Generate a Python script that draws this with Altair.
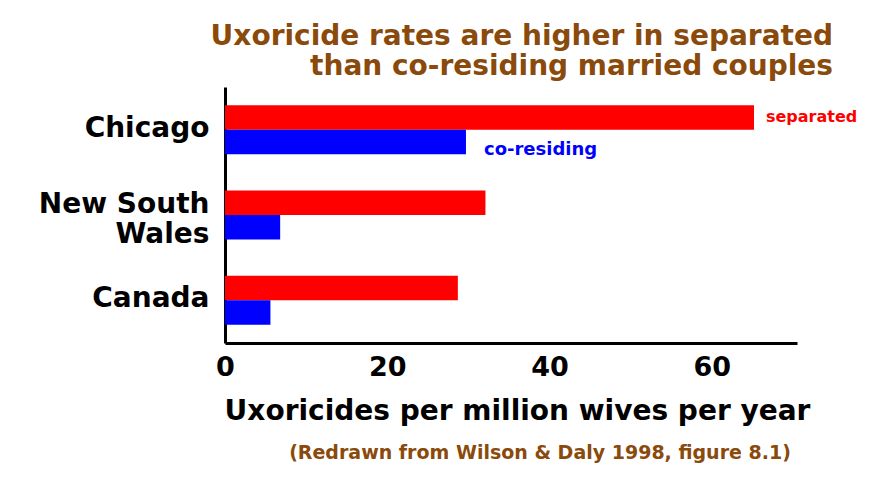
import altair as alt
import pandas as pd

countries = ["Chicago", "New South Wales", "Canada"]
separated = [65.2, 32.1, 28.7]
coresiding = [29.7, 6.8, 5.6]
groups = ["separated", "co-residing"]
colors = ["#ff0000", "#0000ff"]
title_lines = ["Uxoricide rates are higher in separated", "than co-residing married couples"]
x_title = "Uxoricides per million wives per year"
source_note = "(Redrawn from Wilson & Daly 1998, figure 8.1)"
x_ticks = [0, 20, 40, 60]

BROWN = "#8a4a0c"
FONT = "DejaVu Sans"
W, H = 572, 256

rows = []
for c, s, r in zip(countries, separated, coresiding):
    rows.append({"country": c, "group": "separated", "rate": s})
    rows.append({"country": c, "group": "co-residing", "rate": r})
df = pd.DataFrame(rows)

y_enc = alt.Y(
    "country:N", sort=countries,
    scale=alt.Scale(paddingInner=0.426, paddingOuter=0.213),
    axis=alt.Axis(
        title=None,
        labelExpr="datum.label == 'New South Wales' ? ['New South', 'Wales'] : datum.label",
        labelOffset={"condition": {"test": "datum.label == 'New South Wales'", "value": -10}, "value": -1},
        labelPadding=16, labelLineHeight=30, labelFontSize=28,
    ),
)
yoff_enc = alt.YOffset("group:N", sort=groups, scale=alt.Scale(paddingInner=0, paddingOuter=0))
x_enc = alt.X(
    "rate:Q", scale=alt.Scale(domain=[0, 70.5], nice=False),
    axis=alt.Axis(values=x_ticks, title=x_title, labelPadding=11, titlePadding=17,
                  labelFlush=False, titleFontSize=28, labelFontSize=27,
                  titleX=292, titleAlign="center"),
)
color_enc = alt.Color("group:N", scale=alt.Scale(domain=groups, range=colors), legend=None)

bars = alt.Chart(df).mark_bar().encode(x=x_enc, y=y_enc, yOffset=yoff_enc, color=color_enc)

sep_label = alt.Chart(df).transform_filter(
    (alt.datum.country == "Chicago") & (alt.datum.group == "separated")
).mark_text(align="left", baseline="middle", dx=12, fontSize=16, fontWeight="bold",
            font=FONT).encode(
    x="rate:Q", y=alt.Y("country:N", sort=countries), yOffset=alt.YOffset("group:N", sort=groups),
    color=color_enc, text="group:N")

co_label = alt.Chart(df).transform_filter(
    (alt.datum.country == "Chicago") & (alt.datum.group == "co-residing")
).mark_text(align="left", baseline="middle", dx=18, dy=8, fontSize=18, fontWeight="bold",
            font=FONT).encode(
    x="rate:Q", y=alt.Y("country:N", sort=countries), yOffset=alt.YOffset("group:N", sort=groups),
    color=color_enc, text="group:N")

note = alt.Chart(pd.DataFrame({"t": [source_note]})).mark_text(
    align="center", baseline="middle", fontSize=19, fontWeight="bold", font=FONT,
    color=BROWN).encode(x=alt.value(315), y=alt.value(366), text="t:N")

chart = alt.layer(bars, sep_label, co_label, note).properties(
    width=W, height=H,
    autosize=alt.AutoSizeParams(type="none"),
    padding={"left": 217, "top": 79, "right": 67, "bottom": 125},
    background="white",
    title=alt.TitleParams(
        text=title_lines, anchor="end", frame="group", dx=36, offset=6,
        fontSize=28, font=FONT, fontWeight="bold",
        color=BROWN, lineHeight=30,
    ),
).configure_view(stroke=None).configure_axis(
    domainColor="black", domainWidth=3, ticks=False, grid=False,
    labelFont=FONT, labelFontWeight="bold", labelColor="black",
    titleFont=FONT, titleFontWeight="bold", titleColor="black",
)

chart.save("out.html", embed_options={"renderer": "svg", "actions": False})
